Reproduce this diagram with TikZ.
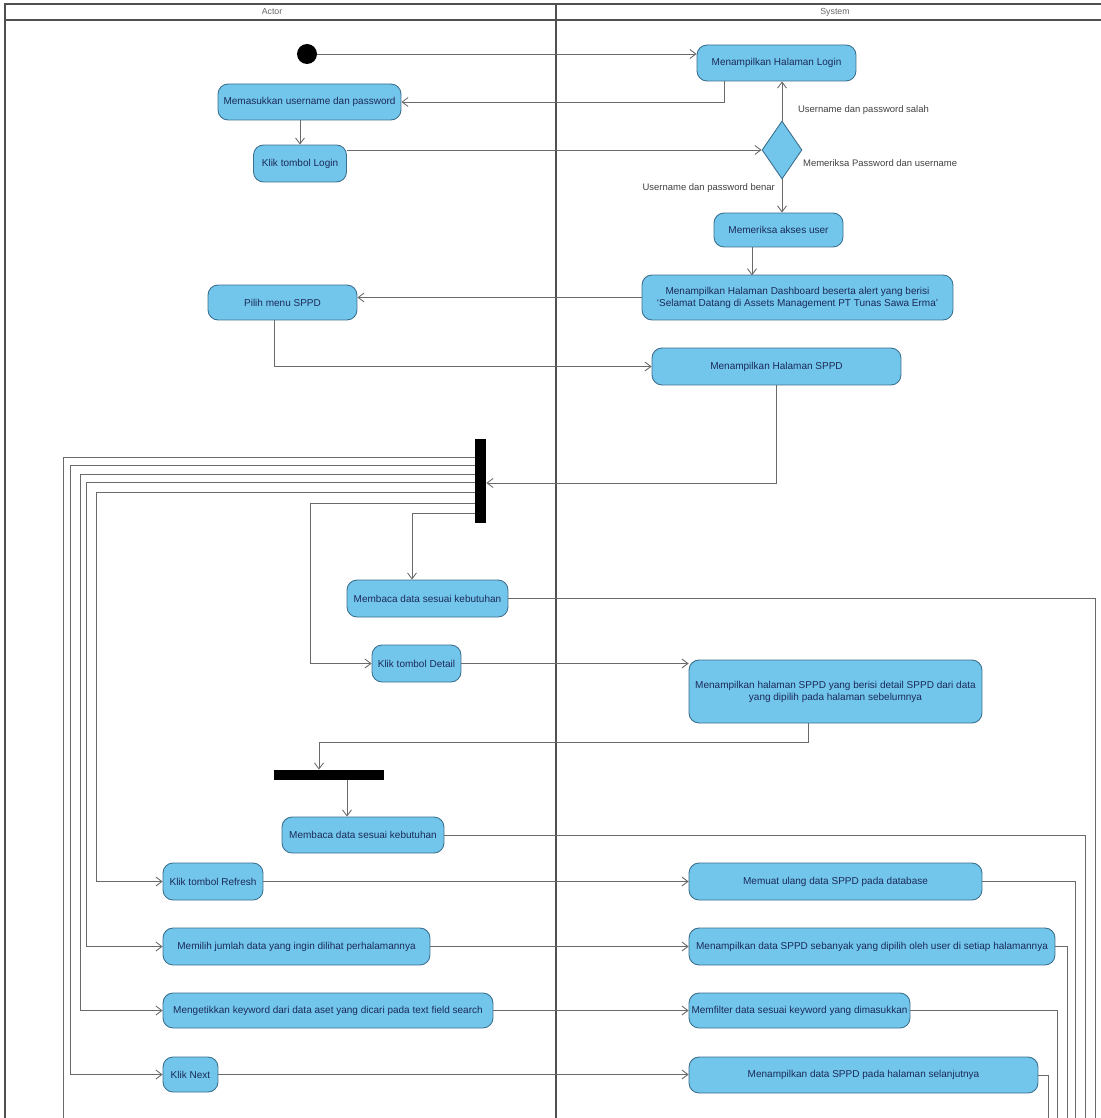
\documentclass[tikz,border=0pt]{standalone}
\usepackage{fontspec}
\setmainfont{Liberation Sans}
\usetikzlibrary{shapes.geometric, arrows.meta, calc}
\definecolor{actfill}{HTML}{72C6EC}
\definecolor{actdraw}{HTML}{3A6E8C}
\definecolor{acttext}{HTML}{1B2A57}
\definecolor{flowgray}{HTML}{6A6A6A}
\definecolor{framegray}{HTML}{505050}

\begin{document}
\begin{tikzpicture}[x=0.02cm, y=-0.02cm,
  act/.style={rectangle, rounded corners=0.2cm, draw=actdraw, fill=actfill, text=acttext, font=\fontsize{5.7}{6.8}\selectfont, align=center, inner sep=1pt, line width=0.5pt},
  bar/.style={rectangle, fill=black, draw=none, inner sep=0pt},
  decision/.style={diamond, draw=actdraw, fill=actfill, inner sep=0pt, minimum width=0.8cm, minimum height=1.16cm, line width=0.5pt},
  guard/.style={font=\fontsize{5.4}{6.4}\selectfont, text=black!75, inner sep=1pt},
  lane/.style={font=\fontsize{5}{6}\selectfont, text=black!60},
  arr/.style={-{Straight Barb[length=1.2mm, width=1.8mm]}, draw=flowgray, line width=0.5pt},
  link/.style={draw=flowgray, line width=0.5pt},
  frame/.style={draw=framegray, line width=0.8pt},
]
\useasboundingbox (0,0) rectangle (1101,1118);

% --- swimlanes ---
\draw[frame] (5,1118) -- (5,4) -- (1101,4);
\draw[frame] (5,20) -- (1101,20);
\draw[frame] (556,4) -- (556,1118);
\node[lane] (hdactor) at (272,12) {Actor};
\node[lane] (hdsystem) at (835,12) {System};

% --- login ---
\node[circle, fill=black, minimum size=0.4cm, inner sep=0pt] (start) at (307,54) {};
\node[act, minimum width=3.18cm, minimum height=0.72cm] (login) at (776.5,63) {Menampilkan Halaman Login};
\node[act, minimum width=3.66cm, minimum height=0.72cm] (masuk) at (309.5,102) {Memasukkan username dan password};
\node[act, minimum width=1.86cm, minimum height=0.74cm] (klogin) at (300,163.5) {Klik tombol Login};
\node[decision] (cek) at (782,150) {};
\node[guard, anchor=west] (lblsalah) at (796,110) {Username dan password salah};
\node[guard, anchor=west] (lblcek) at (801,163) {Memeriksa Password dan username};
\node[guard, anchor=east] (lblbenar) at (777,188) {Username dan password benar};
\node[act, minimum width=2.58cm, minimum height=0.68cm] (akses) at (778.5,230) {Memeriksa akses user};
\node[act, minimum width=6.22cm, minimum height=0.9cm] (dash) at (797.5,297.5) {Menampilkan Halaman Dashboard beserta alert yang berisi\\`Selamat Datang di Assets Management PT Tunas Sawa Erma'};
\node[act, minimum width=2.98cm, minimum height=0.7cm] (pilih) at (282.5,302.5) {Pilih menu SPPD};
\node[act, minimum width=4.98cm, minimum height=0.74cm] (sppd) at (776.5,366.5) {Menampilkan Halaman SPPD};

% --- halaman SPPD ---
\node[bar, minimum width=0.22cm, minimum height=1.7cm] (fork1) at (480.5,481) {};
\node[act, minimum width=3.22cm, minimum height=0.74cm] (baca1) at (427.5,598.5) {Membaca data sesuai kebutuhan};
\node[act, minimum width=1.78cm, minimum height=0.74cm] (kdetail) at (416.5,663.5) {Klik tombol Detail};
\node[act, minimum width=5.86cm, minimum height=1.26cm] (detail) at (835.5,691.5) {Menampilkan halaman SPPD yang berisi detail SPPD dari data\\yang dipilih pada halaman sebelumnya};
\node[bar, minimum width=2.2cm, minimum height=0.2cm] (fork2) at (329,775) {};
\node[act, minimum width=3.24cm, minimum height=0.72cm] (baca2) at (363,835) {Membaca data sesuai kebutuhan};
\node[act, minimum width=2cm, minimum height=0.74cm] (krefresh) at (213,881.5) {Klik tombol Refresh};
\node[act, minimum width=5.86cm, minimum height=0.74cm] (muat) at (835.5,881.5) {Memuat ulang data SPPD pada database};
\node[act, minimum width=5.34cm, minimum height=0.74cm] (kjumlah) at (296.5,946.5) {Memilih jumlah data yang ingin dilihat perhalamannya};
\node[act, minimum width=7.32cm, minimum height=0.74cm] (tampil) at (872,946.5) {Menampilkan data SPPD sebanyak yang dipilih oleh user di setiap halamannya};
\node[act, minimum width=6.6cm, minimum height=0.7cm] (kkeyword) at (328,1010.5) {Mengetikkan keyword dari data aset yang dicari pada text field search};
\node[act, minimum width=4.42cm, minimum height=0.7cm] (filter) at (799.5,1010.5) {Memfilter data sesuai keyword yang dimasukkan};
\node[act, minimum width=1.1cm, minimum height=0.7cm] (knext) at (190.5,1074.5) {Klik Next};
\node[act, minimum width=6.98cm, minimum height=0.72cm] (nextpage) at (863.5,1075) {Menampilkan data SPPD pada halaman selanjutnya};

% --- routing columns ---
\coordinate (colB) at (70,0);
\coordinate (colC) at (80,0);
\coordinate (colD) at (86,0);
\coordinate (colE) at (96,0);
\coordinate (colF) at (310,0);
\coordinate (endA) at (63,1118);
\coordinate (endR1) at (1095,1118);
\coordinate (endR2) at (1085,1118);
\coordinate (endR3) at (1075,1118);
\coordinate (endR4) at (1067,1118);
\coordinate (endR5) at (1057,1118);
\coordinate (endR6) at (1048,1118);

% --- arrows: login ---
\draw[arr] (start) -- (start -| login.west);
\draw[arr] ($(login.south)+(-52.5,0)$) |- (masuk.east);
\draw[arr] (masuk.south -| klogin.north) -- (klogin.north);
\draw[arr] (klogin.east |- cek.west) -- (cek.west);
\draw[arr] (cek.north) -- (cek.north |- login.south);
\draw[arr] (cek.south) -- (cek.south |- akses.north);
\draw[arr] ($(akses.south)+(-26.5,0)$) -- ++(0,28);
\draw[arr] (dash.west) -- (dash.west -| pilih.east);
\draw[arr] ($(pilih.south)+(-8.5,0)$) |- (sppd.west);
\draw[arr] (sppd.south) |- ($(fork1.east)+(0,2)$);

% --- arrows: fork ---
\draw[link] ($(fork1.west)+(0,-24)$) -| (endA);
\draw[arr] ($(fork1.west)+(0,-16)$) -| (colB |- knext.west) -- (knext.west);
\draw[arr] ($(fork1.west)+(0,-7)$) -| (colC |- kkeyword.west) -- (kkeyword.west);
\draw[arr] ($(fork1.west)+(0,1)$) -| (colD |- kjumlah.west) -- (kjumlah.west);
\draw[arr] ($(fork1.west)+(0,11)$) -| (colE |- krefresh.west) -- (krefresh.west);
\draw[arr] ($(fork1.west)+(0,22)$) -| (colF |- kdetail.west) -- (kdetail.west);
\draw[arr] ($(fork1.west)+(0,32)$) -| ($(baca1.north)+(-15.5,0)$);

% --- arrows: actions ---
\draw[link] (baca1.east) -| (endR1);
\draw[arr] (kdetail.east) -- (kdetail.east -| detail.west);
\draw[arr] ($(detail.south)+(-27.5,0)$) -- ++(0,19) -| ($(fork2.north)+(-10,0)$);
\draw[arr] ($(fork2.south)+(18,0)$) -- ($(baca2.north)+(-16,0)$);
\draw[link] (baca2.east) -| (endR2);
\draw[arr] (krefresh.east) -- (krefresh.east -| muat.west);
\draw[link] (muat.east) -| (endR3);
\draw[arr] (kjumlah.east) -- (kjumlah.east -| tampil.west);
\draw[link] (tampil.east) -| (endR4);
\draw[arr] (kkeyword.east) -- (kkeyword.east -| filter.west);
\draw[link] (filter.east) -| (endR5);
\draw[arr] (knext.east) -- (knext.east -| nextpage.west);
\draw[link] (nextpage.east) -| (endR6);
\end{tikzpicture}
\end{document}
